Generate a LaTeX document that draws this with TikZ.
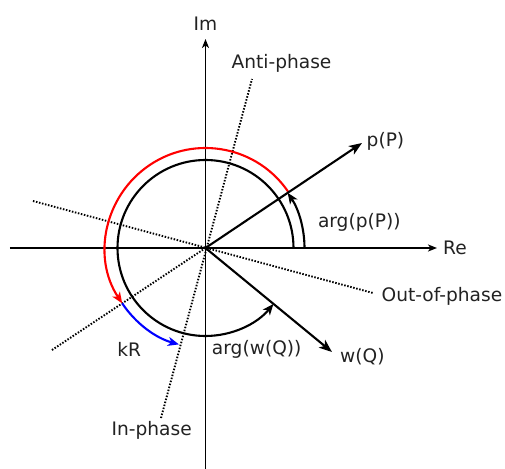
\documentclass[tikz,border=0pt]{standalone}
\usepackage{fontspec}
\setmainfont{DejaVu Sans}
\usetikzlibrary{arrows.meta}
\definecolor{txt}{HTML}{222222}
\begin{document}
\begin{tikzpicture}[x=1pt,y=1pt,
  lbl/.style={font=\fontsize{18.6}{20}\selectfont, text=txt, inner sep=0pt},
  axis/.style={line width=1.6pt, -{Stealth[length=9pt,width=7pt,inset=2.5pt]}},
  vec/.style={line width=2.1pt, -{Stealth[length=13pt,width=10pt,inset=3.5pt]}},
  arcline/.style={line width=2.1pt, -{Stealth[length=11pt,width=9pt,inset=3pt]}},
  dots/.style={line width=1.9pt, dash pattern=on 1.5pt off 1.6pt}]
\useasboundingbox (-205.5,-220) rectangle (299.5,248);
\coordinate (O) at (0,0);
% axes
\coordinate (ImB) at (0,-222);
\coordinate (ImT) at (0,209);
\coordinate (ReL) at (-195.5,0);
\coordinate (ReR) at (231.5,0);
\draw[axis] (ImB) -- (ImT);
\draw[axis] (ReL) -- (ReR);
\node[lbl] (im) at (0,224) {Im};
\node[lbl, anchor=west] (re) at (237.5,0) {Re};
% dotted lines
\coordinate (AP) at (46.5,169);
\coordinate (IP) at (-44.5,-170);
\coordinate (OPL) at (-172.5,47);
\coordinate (OPR) at (167.5,-45);
\coordinate (PM) at (-153.5,-102);
\draw[dots] (IP) -- (AP);
\draw[dots] (OPL) -- (OPR);
\draw[dots] (PM) -- (O);
\node[lbl] (ap) at (76,184.7) {Anti-phase};
\node[lbl] (ip) at (-53.8,-182) {In-phase};
\node[lbl, anchor=west] (op) at (176,-48.7) {Out-of-phase};
% arcs
\draw[arcline] ([shift={(0:88)}]O) arc[start angle=0, end angle=320.5, radius=88];
\draw[arcline] ([shift={(0:99)}]O) arc[start angle=0, end angle=33.9, radius=99];
\draw[arcline, red] ([shift={(33.9:100)}]O) arc[start angle=33.9, end angle=213.6, radius=100];
\draw[arcline, blue] ([shift={(213.6:100)}]O) arc[start angle=213.6, end angle=254.6, radius=100];
% vectors
\coordinate (P) at (156.5,105);
\coordinate (W) at (126.5,-104);
\draw[vec] (O) -- (P);
\draw[vec] (O) -- (W);
\node[lbl, anchor=west] (pl) at (161,106.3) {p(P)};
\node[lbl, anchor=west] (wl) at (134.5,-109) {w(Q)};
\node[lbl] (argp) at (153.8,25.3) {arg(p(P))};
\node[lbl] (argw) at (51.2,-101.3) {arg(w(Q))};
\node[lbl] (kr) at (-76.2,-101.3) {kR};
\end{tikzpicture}
\end{document}
